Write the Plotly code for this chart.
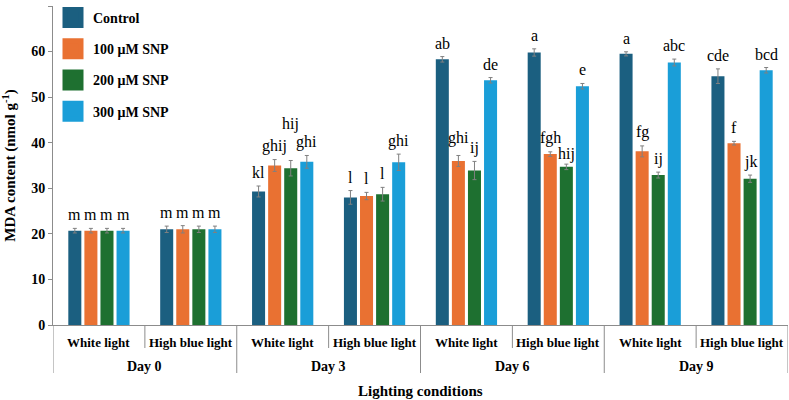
import plotly.graph_objects as go

days = ["Day 0", "Day 3", "Day 6", "Day 9"]
lights = ["White light", "High blue light"]
series = ["Control", "100 μM SNP", "200 μM SNP", "300 μM SNP"]
colors = ["#1b5f80", "#e97132", "#1e7030", "#1a9ed8"]

# values per subgroup (day x light), order: D0W, D0B, D3W, D3B, D6W, D6B, D9W, D9B
control = [20.7, 21.0, 29.3, 28.0, 58.3, 59.8, 59.5, 54.6]
snp100 = [20.7, 21.0, 35.0, 28.3, 36.0, 37.5, 38.1, 39.9]
snp200 = [20.7, 21.0, 34.4, 28.7, 33.9, 34.7, 32.9, 32.1]
snp300 = [20.7, 21.0, 35.8, 35.7, 53.7, 52.4, 57.6, 55.9]

err_control = [0.5, 0.7, 1.2, 1.5, 0.6, 0.8, 0.45, 1.6]
err_100 = [0.5, 0.8, 1.3, 0.8, 1.2, 0.5, 1.2, 0.4]
err_200 = [0.5, 0.7, 1.7, 1.5, 2.0, 0.6, 0.65, 0.8]
err_300 = [0.5, 0.7, 1.4, 1.8, 0.6, 0.6, 0.75, 0.6]

let_control = ["m", "m", "kl", "l", "ab", "a", "a", "cde"]
let_100 = ["m", "m", "ghij", "l", "ghi", "fgh", "fg", "f"]
let_200 = ["m", "m", "hij", "l", "ij", "hij", "ij", "jk"]
let_300 = ["m", "m", "ghi", "ghi", "de", "e", "abc", "bcd"]

values = [control, snp100, snp200, snp300]
errors = [err_control, err_100, err_200, err_300]
letters = [let_control, let_100, let_200, let_300]

FONT = "'Liberation Serif', 'Times New Roman', serif"
BARGAP = 0.3
n_sub = len(days) * len(lights)
xpos = list(range(n_sub))
pitch = (1 - BARGAP) / len(series)

# label extra pixel shifts (style only) for crowded labels
extra_shift = {(2, 2): 23, (1, 4): 4, (2, 5): -3}

fig = go.Figure()
for j, name in enumerate(series):
    fig.add_trace(go.Bar(
        x=xpos, y=values[j], name=name, showlegend=False,
        marker=dict(color=colors[j], line=dict(width=0)),
        error_y=dict(type="data", array=errors[j], visible=True,
                     color="#808080", thickness=1, width=2),
    ))
    # legend proxy
    fig.add_trace(go.Scatter(
        x=[None], y=[None], mode="markers", name=name, legendgroup=name,
        marker=dict(symbol="square", size=16, color=colors[j],
                    line=dict(color=colors[j], width=5)),
    ))

annotations = []
for j in range(len(series)):
    for i in range(n_sub):
        annotations.append(dict(
            x=i + (j - (len(series) - 1) / 2) * pitch,
            y=values[j][i] + errors[j][i],
            xref="x", yref="y", text=letters[j][i], showarrow=False,
            yanchor="middle", yshift=13.5 + extra_shift.get((j, i), 0),
            font=dict(family=FONT, size=16, color="#000"),
        ))

# inner category labels
for i in range(n_sub):
    annotations.append(dict(
        x=i, y=0, xref="x", yref="paper", yanchor="middle", yshift=-17,
        text="<b>%s</b>" % lights[i % len(lights)], showarrow=False,
        font=dict(family=FONT, size=13, color="#000"),
    ))
# outer day labels
for d, day in enumerate(days):
    annotations.append(dict(
        x=d * len(lights) + (len(lights) - 1) / 2, y=0, xref="x", yref="paper",
        yanchor="middle", yshift=-41.5,
        text="<b>%s</b>" % day, showarrow=False,
        font=dict(family=FONT, size=14, color="#000"),
    ))
annotations.append(dict(
    x=0.5, y=0, xref="paper", yref="paper", yanchor="middle", yshift=-66,
    text="<b>Lighting conditions</b>", showarrow=False,
    font=dict(family=FONT, size=15, color="#000"),
))

plot_h = 319.0
shapes = []
for k in range(n_sub + 1):
    outer = (k % len(lights) == 0)
    length = 48 if outer else 23
    shapes.append(dict(
        type="line", xref="x", yref="paper",
        x0=k - 0.5, x1=k - 0.5, y0=0, y1=-length / plot_h,
        line=dict(color="#8c8c8c", width=1),
    ))

fig.update_layout(
    width=789, height=400,
    margin=dict(l=53, r=1, t=6, b=75),
    paper_bgcolor="white", plot_bgcolor="white",
    barmode="group", bargap=BARGAP, bargroupgap=0.19,
    font=dict(family=FONT, color="#000"),
    annotations=annotations, shapes=shapes,
    legend=dict(x=0.0, y=1.0 + 4 / plot_h, xanchor="left", yanchor="top",
                font=dict(family=FONT, size=14, color="#000", weight="bold"),
                tracegroupgap=10, bgcolor="rgba(0,0,0,0)"),
    showlegend=True,
)
fig.update_xaxes(range=[-0.5, n_sub - 0.5], showticklabels=False, ticks="",
                 showline=True, linecolor="#8c8c8c", linewidth=1,
                 showgrid=False, zeroline=False, fixedrange=True)
fig.update_yaxes(range=[0, 70], dtick=10, ticks="outside", ticklen=4,
                 tickcolor="#8c8c8c", showline=True, linecolor="#8c8c8c",
                 linewidth=1, showgrid=False, zeroline=False,
                 tickfont=dict(family=FONT, size=14, color="#000", weight="bold"),
                 title=dict(text="<b>MDA content (nmol g<sup>-1</sup>)</b>",
                            font=dict(family=FONT, size=15, color="#000"),
                            standoff=12),
                 automargin=False)

fig.write_html("out.html")
